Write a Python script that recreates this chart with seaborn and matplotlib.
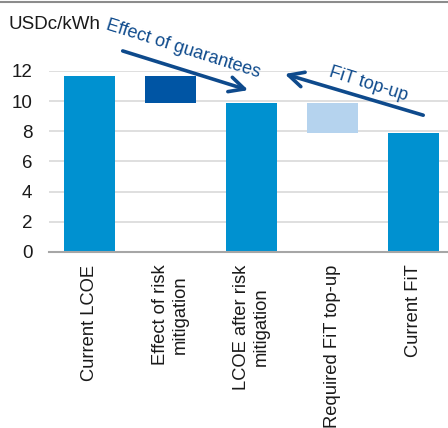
import matplotlib
matplotlib.use("Agg")
import matplotlib.pyplot as plt
from matplotlib.lines import Line2D
import numpy as np
import seaborn as sns

# Waterfall steps (USDc/kWh): each bar spans from its base to its top
categories = ["Current LCOE", "Effect of risk\nmitigation", "LCOE after risk\nmitigation",
              "Required FiT top-up", "Current FiT"]
bar_base = [0.0, 9.9, 0.0, 7.9, 0.0]
bar_top = [11.7, 11.7, 9.9, 9.9, 7.9]
bar_colors = ["#0091D0", "#0055A4", "#0091D0", "#B5D3EE", "#0091D0"]
y_ticks = [0, 2, 4, 6, 8, 10, 12]
unit_label = "USDc/kWh"

sns.set_theme(style="white")
plt.rcParams["font.family"] = ["Liberation Sans", "DejaVu Sans"]

fig = plt.figure(figsize=(4.48, 4.28), dpi=100)
ax = fig.add_axes([49 / 448, 1 - 252 / 428, 405 / 448, 181 / 428])

heights = np.array(bar_top) - np.array(bar_base)
sns.barplot(x=categories, y=heights, bottom=bar_base, color=bar_colors[0],
            width=0.63, saturation=1, ax=ax, zorder=2)
for patch, col in zip(ax.patches, bar_colors):
    patch.set_facecolor(col)
    patch.set_edgecolor("none")

ax.set_ylim(0, 12)
ax.set_xlim(-0.5, 4.5)
ax.set_yticks(y_ticks)
ax.yaxis.grid(True, color="#D9D9D9", linewidth=1.2, zorder=0)
ax.set_axisbelow(True)
for side in ["top", "right", "left"]:
    ax.spines[side].set_visible(False)
ax.spines["bottom"].set_color("#A6A6A6")
ax.spines["bottom"].set_linewidth(1.5)
ax.tick_params(axis="y", length=0, pad=12, labelsize=13.5, labelcolor="#1A1A1A")
ax.tick_params(axis="x", length=0, pad=9, labelsize=13.2, labelcolor="#1A1A1A")
for lbl in ax.get_xticklabels():
    lbl.set_rotation(90)
    lbl.set_multialignment("center")
ax.set_xlabel("")
ax.set_ylabel("")

fig.text(8 / 448, 1 - 29 / 428, unit_label, fontsize=13.5, color="#1A1A1A",
         ha="left", va="baseline")

# Thin rule across the top
fig.add_artist(Line2D([0, 1], [1 - 1.5 / 428, 1 - 1.5 / 428], color="#8C8C8C",
                      linewidth=1.5, transform=fig.transFigure))

arrow_col = "#0E4A8C"
arrow_style = dict(arrowstyle="->,head_length=0.9,head_width=0.45", color=arrow_col,
                   linewidth=2.6, shrinkA=0, shrinkB=0)
ax.annotate("", xy=(1.96, 10.73), xytext=(0.41, 13.33), arrowprops=arrow_style,
            annotation_clip=False)
ax.annotate("", xy=(2.41, 11.8), xytext=(4.12, 9.07), arrowprops=arrow_style,
            annotation_clip=False)
ax.text(1.16, 13.45, "Effect of guarantees", rotation=-17.5, color=arrow_col,
        fontsize=13, ha="center", va="center", rotation_mode="anchor", clip_on=False)
ax.text(3.44, 11.15, "FiT top-up", rotation=-17.5, color=arrow_col,
        fontsize=13, ha="center", va="center", rotation_mode="anchor", clip_on=False)

fig.savefig("out.png", dpi=100)
